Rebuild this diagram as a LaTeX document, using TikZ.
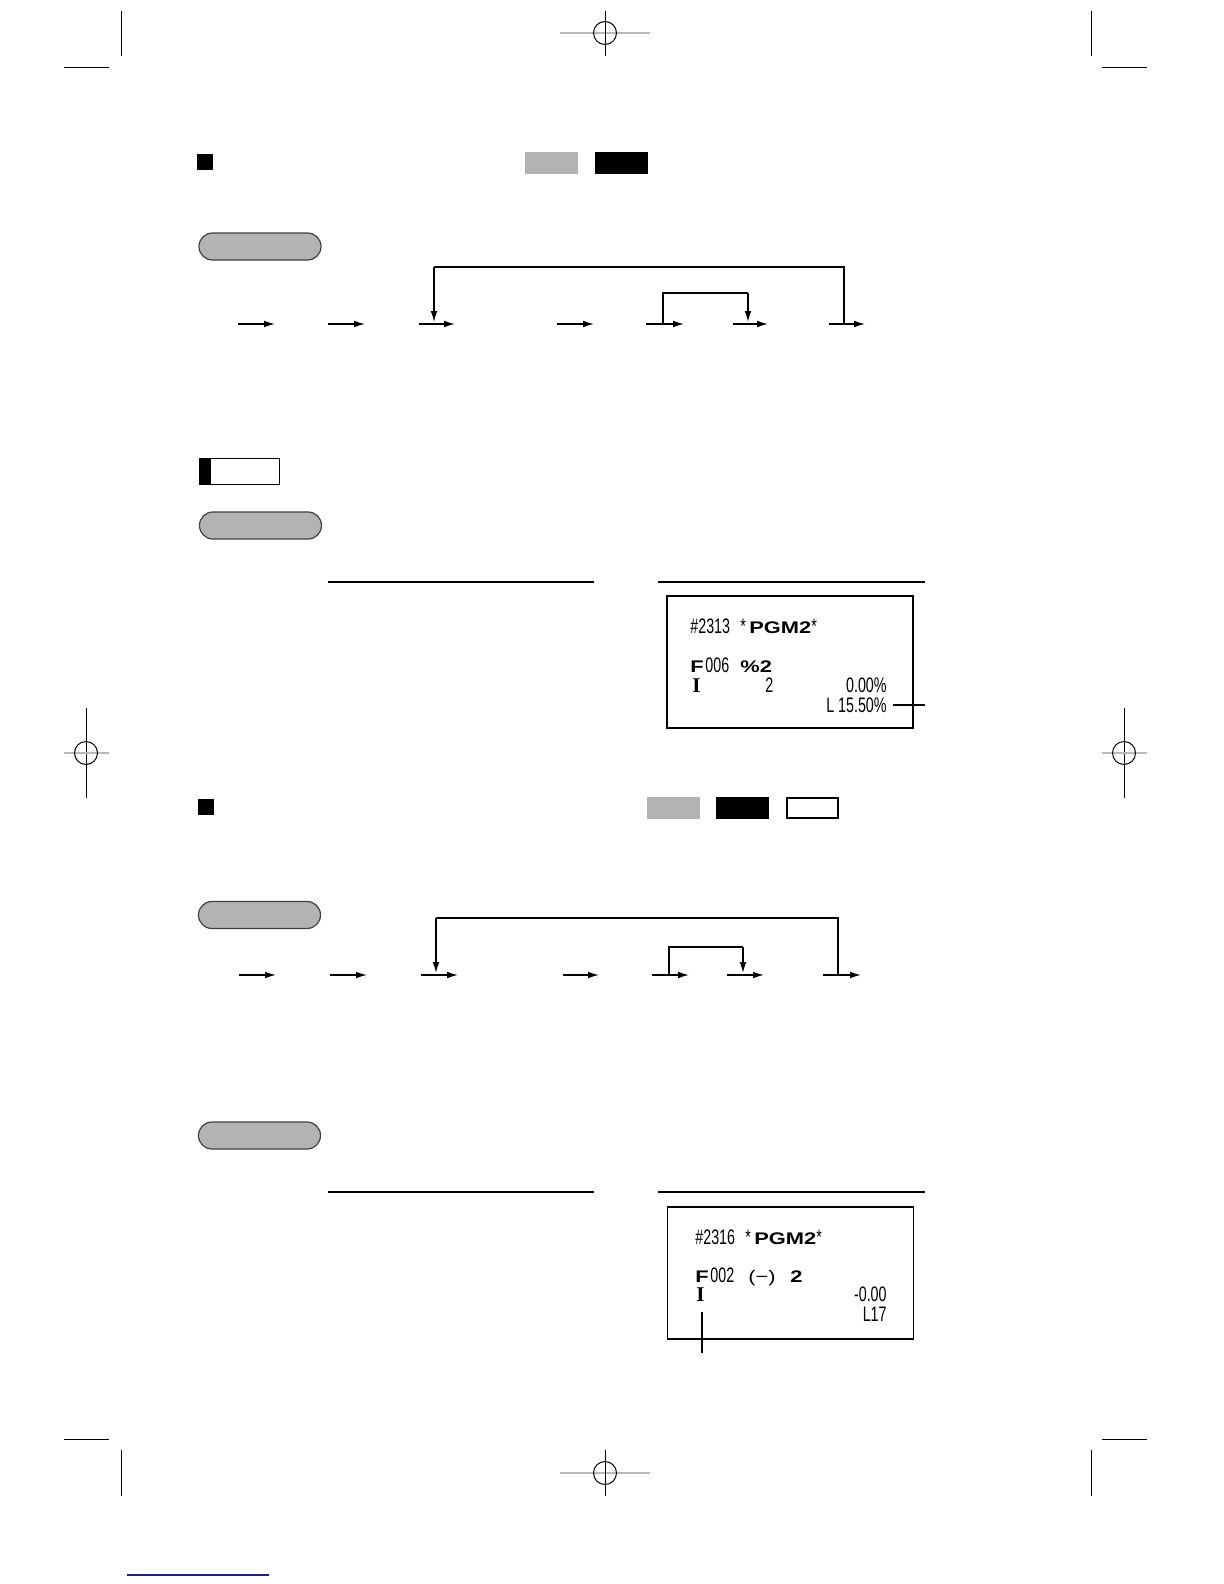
\documentclass[tikz,border=0pt]{standalone}
\usepackage{fontspec}
\setmainfont{Liberation Sans}
\newfontfamily\rcpt{Liberation Sans}[FakeStretch=0.68]
\newfontfamily\rcptwide{Liberation Sans}[FakeStretch=1.3]
\newfontfamily\rcptser{Liberation Serif}
\usetikzlibrary{arrows.meta}
\definecolor{keygray}{RGB}{179,179,179}
\definecolor{linkblue}{RGB}{30,30,140}
\tikzset{
  cropline/.style={line width=0.5pt},
  regline/.style={line width=0.8pt, draw=gray!55},
  flow/.style={-{Latex[length=5.5pt,width=3.4pt]}, line width=0.75pt},
  loopline/.style={line width=0.7pt},
  pill/.style={draw=black!75, line width=0.6pt, fill=keygray, rounded corners=6.7pt,
    minimum width=61pt, minimum height=13.5pt, inner sep=0pt},
  sqmark/.style={fill=black, minimum width=8pt, minimum height=8pt, inner sep=0pt},
  modegray/.style={fill=keygray, minimum width=26.5pt, minimum height=11pt, inner sep=0pt},
  modeblack/.style={fill=black, minimum width=26.5pt, minimum height=11pt, inner sep=0pt},
  modewhite/.style={draw=black, line width=1pt, minimum width=25.5pt, minimum height=10pt, inner sep=0pt},
  rule/.style={line width=0.75pt},
  rbox/.style={draw=black, line width=0.8pt, minimum width=123pt, minimum height=66pt, inner sep=0pt},
  rtxt/.style={inner sep=0pt, font=\fontsize{10.5}{11}\rcpt},
  rbig/.style={inner sep=0pt, font=\fontsize{8.4}{9}\rcptwide\bfseries},
  rpar/.style={inner sep=0pt, font=\fontsize{8.4}{9}\rcptwide},
  rI/.style={inner sep=0pt, font=\fontsize{10.5}{11}\rcptser\bfseries}
}
\begin{document}
\begin{tikzpicture}[x=0.5pt,y=-0.5pt]
\useasboundingbox (0,0) rectangle (1224,1584);

% ---------- crop / registration marks ----------
\draw[cropline] (121,11) -- (121,56);
\draw[cropline] (64,68) -- (109,68);
\draw[cropline] (1091,11) -- (1091,56);
\draw[cropline] (1102,68) -- (1147,68);
\draw[regline] (560,33) -- (650,33);
\draw[cropline] (605,11) -- (605,56);
\draw[cropline] (605,33) circle[radius=11.5];

\draw[cropline] (86,708) -- (86,798);
\draw[regline] (64,753) -- (109,753);
\draw[cropline] (86,753) circle[radius=11.5];
\draw[cropline] (1124,708) -- (1124,798);
\draw[regline] (1102,753) -- (1147,753);
\draw[cropline] (1124,753) circle[radius=11.5];

\draw[cropline] (64,1439) -- (109,1439);
\draw[cropline] (1102,1439) -- (1147,1439);
\draw[cropline] (121,1450) -- (121,1496);
\draw[cropline] (1091,1450) -- (1091,1496);
\draw[regline] (560,1473) -- (650,1473);
\draw[cropline] (605,1450) -- (605,1496);
\draw[cropline] (605,1473) circle[radius=11.5];

\draw[line width=0.6pt, linkblue] (127,1575) -- (269,1575);

% ---------- section 1 ----------
\node[sqmark] (s1) at (205,162) {};
\node[modegray] (m1a) at (551.5,163) {};
\node[modeblack] (m1b) at (621.5,163) {};
\node[pill] (p1) at (260,246.5) {};

% arrow row 1
\foreach \n/\a/\b in {1/238/275, 2/328/365, 3/419/455, 4/557/594, 5/646/684, 6/733/768, 7/829/865}{
  \coordinate (r1s\n) at (\a,324);
  \coordinate (r1e\n) at (\b,324);
  \draw[flow] (r1s\n) -- (r1e\n);
}
\coordinate (b1a) at (434,267);
\coordinate (b1b) at (844,267);
\coordinate (b1t) at (434,322);
\coordinate (b1r) at (844,324);
\draw[loopline] (b1r) -- (b1b) -- (b1a);
\draw[flow] (b1a) -- (b1t);
\coordinate (c1a) at (663,293);
\coordinate (c1b) at (748,293);
\coordinate (c1l) at (663,324);
\coordinate (c1t) at (748,322);
\draw[loopline] (c1l) -- (c1a) -- (c1b);
\draw[flow] (c1b) -- (c1t);

% note box
\node[draw=black, line width=0.6pt, minimum width=40pt, minimum height=13pt, inner sep=0pt] (nb) at (239.5,471.5) {};
\node[fill=black, minimum width=6pt, minimum height=13pt, inner sep=0pt] (nbk) at (205,471.5) {};
\node[pill] (p2) at (260.5,525.5) {};

\coordinate (l1a) at (328,582); \coordinate (l1b) at (594,582);
\coordinate (l1c) at (658,582); \coordinate (l1d) at (925,582);
\draw[rule] (l1a) -- (l1b);
\draw[rule] (l1c) -- (l1d);

% receipt 1
\node[rbox] (rc1) at (790,662) {};
\node[rtxt, anchor=base west] (t1a) at (690,633) {\#2313};
\node[rtxt, anchor=base west] (t1b) at (740,633) {*};
\node[rbig, anchor=base west] (t1c) at (749,633) {PGM2};
\node[rtxt, anchor=base west] (t1d) at (811,633) {*};
\node[rbig, anchor=base west] (t1e) at (690,672) {F};
\node[rtxt, anchor=base west] (t1f) at (705,672) {006};
\node[rbig, anchor=base west] (t1g) at (740,672) {\%2};
\node[rI, anchor=base west] (t1h) at (692,692) {I};
\node[rtxt, anchor=base west] (t1i) at (765,692) {2};
\node[rtxt, anchor=base east] (t1j) at (887,692) {0.00\%};
\node[rtxt, anchor=base east] (t1k) at (887,712) {L 15.50\%};
\coordinate (ld1a) at (893,705); \coordinate (ld1b) at (925,705);
\draw[line width=0.6pt] (ld1a) -- (ld1b);

% ---------- section 2 ----------
\node[sqmark] (s2) at (206,806.5) {};
\node[modegray] (m2a) at (673.5,808) {};
\node[modeblack] (m2b) at (742.5,808) {};
\node[modewhite] (m2c) at (812,808) {};
\node[pill] (p3) at (259.5,915) {};

\foreach \n/\a/\b in {1/239/276, 2/330/367, 3/421/458, 4/563/599, 5/652/689, 6/727/764, 7/823/861}{
  \coordinate (r2s\n) at (\a,975);
  \coordinate (r2e\n) at (\b,975);
  \draw[flow] (r2s\n) -- (r2e\n);
}
\coordinate (b2a) at (436,918);
\coordinate (b2b) at (838,918);
\coordinate (b2t) at (436,973);
\coordinate (b2r) at (838,975);
\draw[loopline] (b2r) -- (b2b) -- (b2a);
\draw[flow] (b2a) -- (b2t);
\coordinate (c2a) at (669,947);
\coordinate (c2b) at (743,947);
\coordinate (c2l) at (669,975);
\coordinate (c2t) at (743,973);
\draw[loopline] (c2l) -- (c2a) -- (c2b);
\draw[flow] (c2b) -- (c2t);

\node[pill] (p4) at (259.5,1135.5) {};

\coordinate (l2a) at (328,1192); \coordinate (l2b) at (594,1192);
\coordinate (l2c) at (658,1192); \coordinate (l2d) at (925,1192);
\draw[rule] (l2a) -- (l2b);
\draw[rule] (l2c) -- (l2d);

% receipt 2
\node[rbox] (rc2) at (790.5,1273) {};
\node[rtxt, anchor=base west] (t2a) at (695,1244) {\#2316};
\node[rtxt, anchor=base west] (t2b) at (745,1244) {*};
\node[rbig, anchor=base west] (t2c) at (754,1244) {PGM2};
\node[rtxt, anchor=base west] (t2d) at (816,1244) {*};
\node[rbig, anchor=base west] (t2e) at (695,1282) {F};
\node[rtxt, anchor=base west] (t2f) at (710,1282) {002};
\node[rpar, anchor=base west] (t2g) at (748,1282) {(−)};
\node[rbig, anchor=base west] (t2h) at (790,1282) {2};
\node[rI, anchor=base west] (t2i) at (696,1301) {I};
\node[rtxt, anchor=base east] (t2j) at (887,1301) {-0.00};
\node[rtxt, anchor=base east] (t2k) at (887,1321) {L17};
\coordinate (ld2a) at (702,1312); \coordinate (ld2b) at (702,1353);
\draw[line width=0.6pt] (ld2a) -- (ld2b);
\end{tikzpicture}
\end{document}
